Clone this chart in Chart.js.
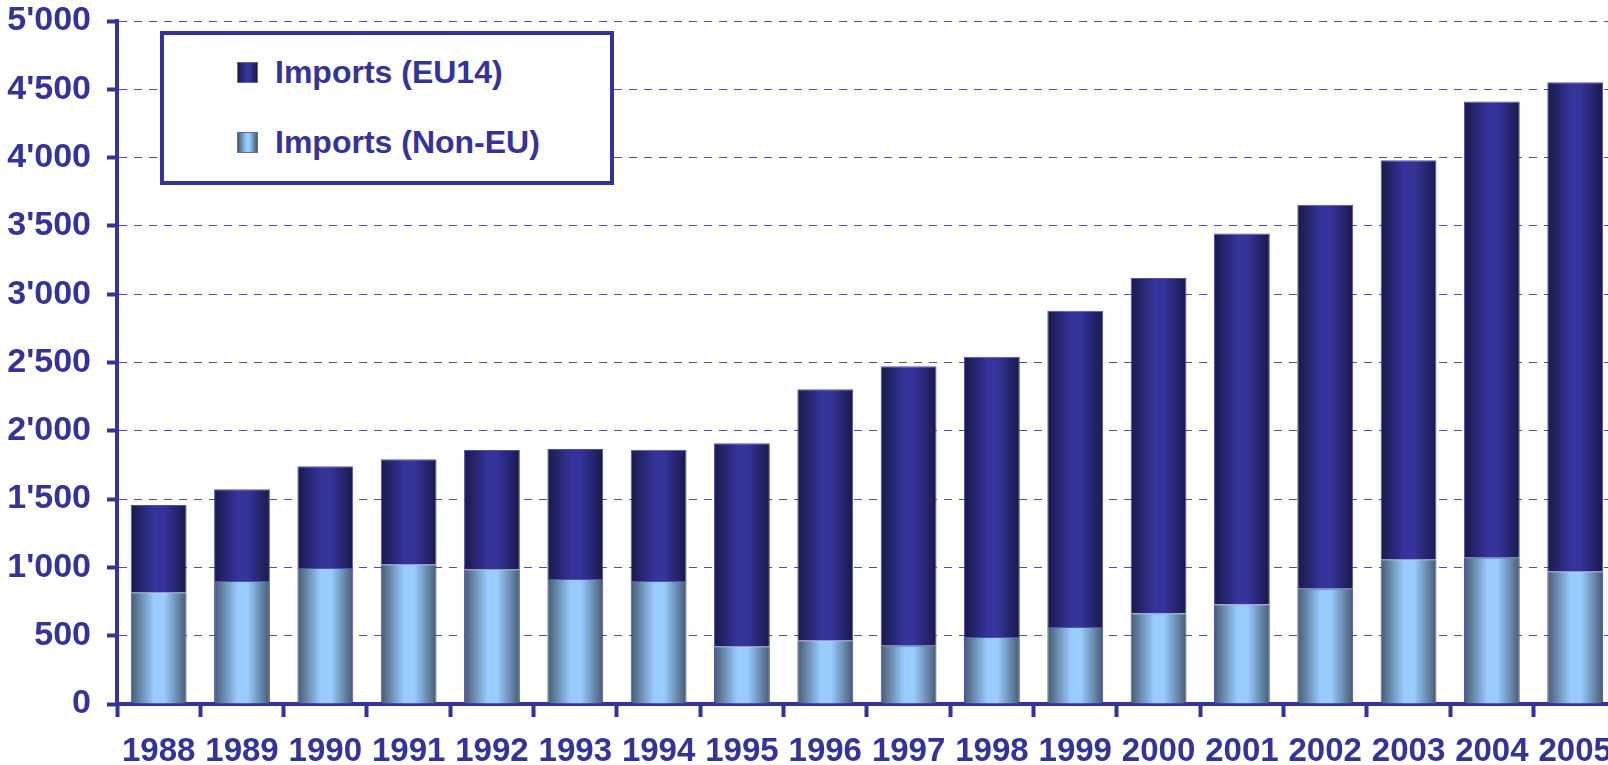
<!DOCTYPE html>
<html>
<head>
<meta charset="utf-8">
<title>Imports EU14 / Non-EU</title>
<script src="https://cdn.jsdelivr.net/npm/chart.js@4/dist/chart.umd.min.js"></script>
<style>
  html, body { margin: 0; padding: 0; overflow: hidden; background: #fff; }
  #wrap { position: relative; width: 1627px; height: 765px; }
  #legend {
    position: absolute; left: 160px; top: 31px; width: 446px; height: 146px;
    border: 4px solid #333399; background: #fff;
    font: bold 32px "Liberation Sans", Arial, sans-serif; color: #333399;
  }
  #legend .item { position: absolute; left: 73px; height: 38px; line-height: 38px; white-space: nowrap; }
  #legend .sw {
    display: inline-block; width: 19px; height: 19px; vertical-align: middle;
    border: 1px solid #6666bb; margin-right: 17px; position: relative; top: -2px;
  }
</style>
</head>
<body>
<div id="wrap">
  <canvas id="myChart" width="1627" height="765"></canvas>
  <div id="legend"></div>
</div>
<script>
// years on the x axis
var years = ['1988', '1989', '1990', '1991', '1992', '1993', '1994', '1995', '1996',
             '1997', '1998', '1999', '2000', '2001', '2002', '2003', '2004', '2005'];
// lower part of each bar
var importsNonEU = [818, 900, 995, 1023, 986, 915, 900, 422, 466,
                    427, 490, 564, 662, 728, 844, 1059, 1071, 971];
// upper part of each bar
var importsEU14 = [639, 672, 745, 768, 873, 952, 962, 1486, 1838,
                   2045, 2053, 2315, 2457, 2716, 2810, 2921, 3340, 3580];
var yTicks = [0, 500, 1000, 1500, 2000, 2500, 3000, 3500, 4000, 4500, 5000];

var blue = '#333399';
var fontY = { family: '"Liberation Sans", Arial, sans-serif', size: 34, weight: 'bold' };
var fontX = { family: '"Liberation Sans", Arial, sans-serif', size: 33, weight: 'bold' };

// colours: [edge, centre]
var euColors = ['#19194a', '#34349a'];
var nonEuColors = ['#465a72', '#99ccff'];
var barPct = 0.67;

function barGradient(cols) {
    return function (c) {
        var chart = c.chart;
        if (!chart.chartArea || c.dataIndex === undefined) return cols[1];
        var xs = chart.scales.x;
        var cx = xs.getPixelForValue(c.dataIndex);
        var w = (xs.width / years.length) * barPct;
        var g = chart.ctx.createLinearGradient(cx - w / 2, 0, cx + w / 2, 0);
        g.addColorStop(0, cols[0]);
        g.addColorStop(0.42, cols[1]);
        g.addColorStop(0.6, cols[1]);
        g.addColorStop(1, cols[0]);
        return g;
    };
}

var ctx = document.getElementById('myChart');
var chart = new Chart(ctx, {
    type: 'bar',
    data: {
        labels: years,
        datasets: [{
            label: 'Imports (Non-EU)',
            data: importsNonEU,
            backgroundColor: barGradient(nonEuColors),
            borderColor: 'rgba(51, 51, 153, 0.85)',
            borderWidth: 1,
            swatch: 'linear-gradient(to right, #465a72, #99ccff 45%, #99ccff 60%, #465a72)'
        }, {
            label: 'Imports (EU14)',
            data: importsEU14,
            backgroundColor: barGradient(euColors),
            borderColor: 'rgba(51, 51, 153, 0.85)',
            borderWidth: 1,
            swatch: 'linear-gradient(to right, #19194a, #34349a 45%, #34349a 60%, #19194a)'
        }]
    },
    options: {
        responsive: false,
        animation: false,
        layout: { padding: { top: 21, right: 4, left: 0, bottom: 0 } },
        datasets: { bar: { categoryPercentage: 1, barPercentage: barPct } },
        plugins: { legend: { display: false }, tooltip: { enabled: false } },
        scales: {
            x: {
                stacked: true,
                afterFit: function (s) { s.height = 61; },
                grid: {
                    offset: true, drawOnChartArea: false,
                    tickLength: 13, tickWidth: 4, tickColor: blue
                },
                border: { color: blue, width: 4 },
                ticks: { color: blue, font: fontX, padding: 15, maxRotation: 0, autoSkip: false }
            },
            y: {
                stacked: true,
                min: 0,
                max: 5000,
                afterFit: function (s) {
                    s.width = 117;
                    s.paddingTop = 0;
                    s.paddingBottom = 0;
                },
                afterBuildTicks: function (s) {
                    s.ticks = yTicks.map(function (v) { return { value: v }; });
                },
                grid: {
                    color: 'rgba(51, 51, 153, 0.85)', lineWidth: 1,
                    tickLength: 10, tickWidth: 4, tickColor: blue, tickBorderDash: []
                },
                border: { color: blue, width: 4, dash: [8, 7] },
                ticks: {
                    color: blue, font: fontY, padding: 16,
                    callback: function (v) {
                        return String(v).replace(/\B(?=(\d{3})+(?!\d))/g, "'");
                    }
                }
            }
        }
    }
});

// legend box, EU14 on top
var legend = document.getElementById('legend');
chart.data.datasets.slice().reverse().forEach(function (ds, i) {
    var item = document.createElement('div');
    item.className = 'item';
    item.style.top = (18 + i * 70) + 'px';
    var sw = document.createElement('span');
    sw.className = 'sw';
    sw.style.background = ds.swatch;
    item.appendChild(sw);
    item.appendChild(document.createTextNode(ds.label));
    legend.appendChild(item);
});
</script>
</body>
</html>
